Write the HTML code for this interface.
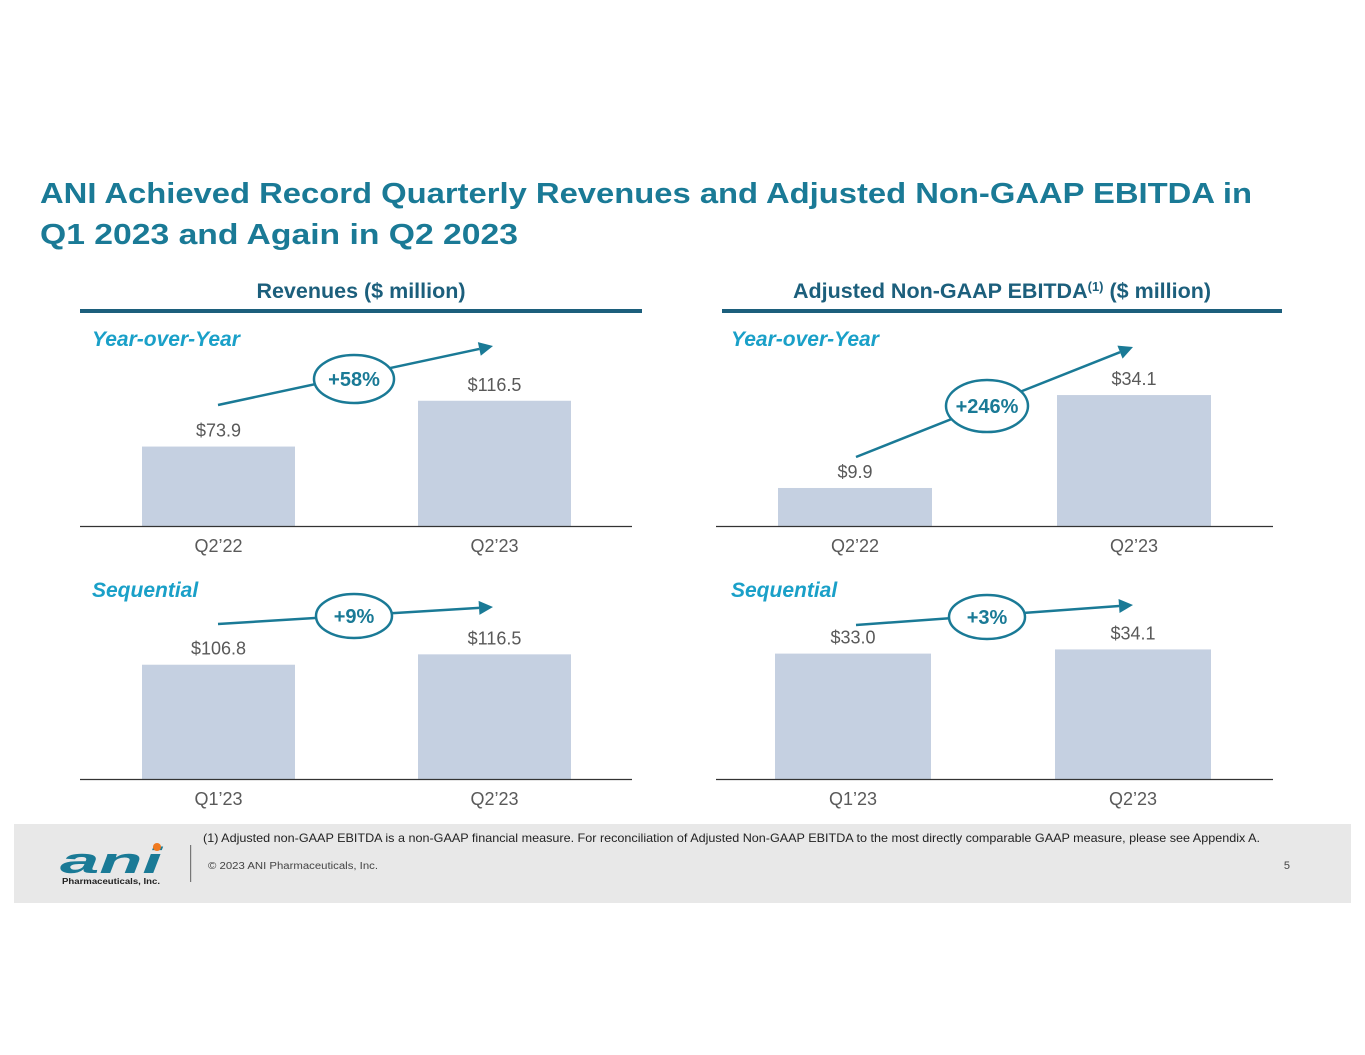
<!DOCTYPE html>
<html><head><meta charset="utf-8"><style>
html,body{margin:0;padding:0;background:#fff}
svg{display:block}
text{font-family:"Liberation Sans",sans-serif}
</style></head><body>
<svg id="s" width="1365" height="1055" viewBox="0 0 1365 1055">
<g fill="#1a7a96" font-weight="bold" font-size="28.5">
<text x="40" y="203" textLength="1212" lengthAdjust="spacingAndGlyphs">ANI Achieved Record Quarterly Revenues and Adjusted Non-GAAP EBITDA in</text>
<text x="40" y="244" textLength="478" lengthAdjust="spacingAndGlyphs">Q1 2023 and Again in Q2 2023</text>
</g>
<text x="361" y="298" text-anchor="middle" font-size="21.5" font-weight="bold" fill="#1c5f7c">Revenues ($ million)</text>
<rect x="80" y="309" width="562" height="4" fill="#1c5f7c"/>
<text x="1002" y="298" text-anchor="middle" font-size="21.5" font-weight="bold" fill="#1c5f7c">Adjusted Non-GAAP EBITDA<tspan font-size="13" dy="-7">(1)</tspan><tspan dy="7"> ($ million)</tspan></text>
<rect x="722" y="309" width="560" height="4" fill="#1c5f7c"/>
<g fill="#1aa0c8" font-size="21" font-weight="bold" font-style="italic">
<text x="92" y="346">Year-over-Year</text>
<text x="731" y="346">Year-over-Year</text>
<text x="92" y="597">Sequential</text>
<text x="731" y="597">Sequential</text>
</g>
<g id="charts"></g>
<g>
<rect x="14" y="824" width="1337" height="79" fill="#e8e8e8"/>
<text x="203" y="842" font-size="12" fill="#222" textLength="1057" lengthAdjust="spacingAndGlyphs">(1) Adjusted non-GAAP EBITDA is a non-GAAP financial measure. For reconciliation of Adjusted Non-GAAP EBITDA to the most directly comparable GAAP measure, please see Appendix A.</text>
<text x="208" y="869" font-size="10" fill="#444" textLength="170" lengthAdjust="spacingAndGlyphs">© 2023 ANI Pharmaceuticals, Inc.</text>
<text x="1290" y="869" font-size="11" fill="#444" text-anchor="end">5</text>
<rect x="190" y="845" width="1.2" height="37" fill="#777"/>
<g>
<text x="60" y="873" font-family="Liberation Serif,serif" font-size="36" font-weight="bold" font-style="italic" fill="#1a7a96" textLength="102" lengthAdjust="spacingAndGlyphs">ani</text>
<circle cx="157" cy="847" r="4" fill="#f07a20"/>
<text x="62" y="884" font-family="Liberation Serif,serif" font-size="8" font-weight="bold" fill="#222" textLength="98" lengthAdjust="spacingAndGlyphs">Pharmaceuticals, Inc.</text>
</g>
</g>
</svg>
<script>
const categoriesYoY = ["Q2’22","Q2’23"];
const categoriesSeq = ["Q1’23","Q2’23"];
const revenueYoY = [73.9,116.5];
const revenueSeq = [106.8,116.5];
const ebitdaYoY = [9.9,34.1];
const ebitdaSeq = [33.0,34.1];
const growthLabels = ["+58%","+246%","+9%","+3%"];

const NS="http://www.w3.org/2000/svg";
const root=document.getElementById('charts');
function mk(tag,attrs,parent){const e=document.createElementNS(NS,tag);for(const k in attrs)e.setAttribute(k,attrs[k]);parent.appendChild(e);return e;}
const panels=[
 {name:'revenues-yoy',cats:categoriesYoY,vals:revenueYoY,base:526,scale:1.075,axis:[80,632],bx:[142,418],bw:153,arrow:[218,405,493,346],ell:[354,379,40,24],g:growthLabels[0]},
 {name:'ebitda-yoy',cats:categoriesYoY,vals:ebitdaYoY,base:526,scale:3.84,axis:[716,1273],bx:[778,1057],bw:154,arrow:[856,457,1133,347],ell:[987,406,41,26],g:growthLabels[1]},
 {name:'revenues-seq',cats:categoriesSeq,vals:revenueSeq,base:779,scale:1.07,axis:[80,632],bx:[142,418],bw:153,arrow:[218,624,493,607],ell:[354,616,38,22],g:growthLabels[2]},
 {name:'ebitda-seq',cats:categoriesSeq,vals:ebitdaSeq,base:779,scale:3.8,axis:[716,1273],bx:[775,1055],bw:156,arrow:[856,625,1133,605],ell:[987,617,38,22],g:growthLabels[3]}
];
panels.forEach(p=>{
 const g=mk('g',{},root);
 
 
 const y=v=>p.base-v*p.scale;
 p.vals.forEach((v,i)=>{
  const r=mk('rect',{x:p.bx[i],y:y(v),width:p.bw,height:p.base-y(v),fill:'#c5d0e1'},g);
  
  
  const t=mk('text',{x:p.bx[i]+p.bw/2,y:y(v)-10,'text-anchor':'middle','font-size':18,fill:'#595959'},g);
  t.textContent='$'+v.toFixed(1);
  
  
  const c=mk('text',{x:p.bx[i]+p.bw/2,y:p.base+26,'text-anchor':'middle','font-size':18,fill:'#595959'},g);
  c.textContent=p.cats[i];
  
  
 });
 const ax=mk('line',{x1:p.axis[0],x2:p.axis[1],y1:p.base+0.5,y2:p.base+0.5,stroke:'#333','stroke-width':1.2},g);
 
 
 const [x1,y1,x2,y2]=p.arrow;
 const dx=x2-x1,dy=y2-y1,L=Math.hypot(dx,dy),ux=dx/L,uy=dy/L;
 const hx=x2-ux*14,hy=y2-uy*14;
 const ln=mk('line',{x1:x1,y1:y1,x2:hx,y2:hy,stroke:'#1a7a96','stroke-width':2.5},g);
 
 
 const hd=mk('polygon',{points:`${x2},${y2} ${hx-uy*7},${hy+ux*7} ${hx+uy*7},${hy-ux*7}`,fill:'#1a7a96'},g);
 
 
 const el=mk('ellipse',{cx:p.ell[0],cy:p.ell[1],rx:p.ell[2],ry:p.ell[3],fill:'#fff',stroke:'#1a7a96','stroke-width':2.5},g);
 
 
 const gt=mk('text',{x:p.ell[0],y:p.ell[1]+7,'text-anchor':'middle','font-size':20,'font-weight':'bold',fill:'#1a7a96'},g);
 gt.textContent=p.g;
 
 
});
</script>
</body></html>
